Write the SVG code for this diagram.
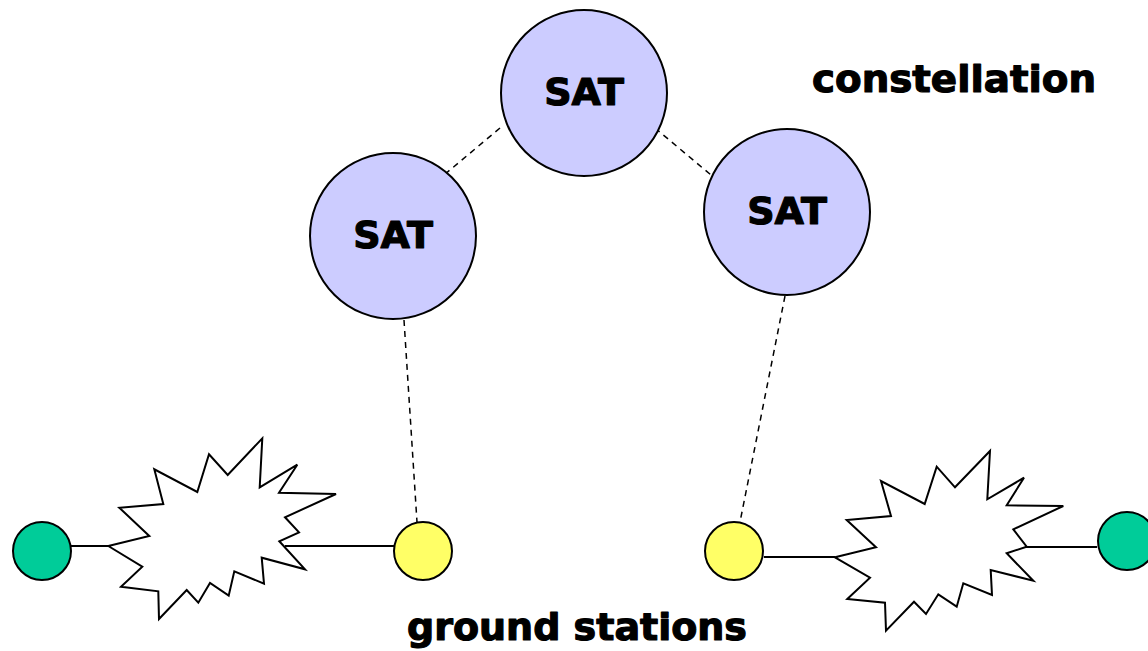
<svg xmlns="http://www.w3.org/2000/svg" width="1148" height="651" viewBox="0 0 1148 651">
  <style>
    .sat { fill: #ccccff; stroke: #000; stroke-width: 2; }
    .ground { fill: #ffff66; stroke: #000; stroke-width: 2; }
    .host { fill: #00cc99; stroke: #000; stroke-width: 2; }
    .cloud { fill: #fff; stroke: #000; stroke-width: 2; stroke-linejoin: miter; }
    .wire { stroke: #000; stroke-width: 1.8; fill: none; }
    .link { stroke: #000; stroke-width: 1.5; stroke-dasharray: 6 5; fill: none; }
    .lbl { font-family: "DejaVu Sans", "Liberation Sans", sans-serif; font-weight: bold; font-size: 38px; fill: #000; stroke: #000; stroke-width: 1.2; stroke-linejoin: round; }
  </style>
  <rect width="1148" height="651" fill="#fff"/>

  <g id="connectors">
    <line class="link" x1="500" y1="128" x2="444" y2="175"/>
    <line class="link" x1="655" y1="128" x2="711" y2="175"/>
    <line class="link" x1="404" y1="320" x2="417" y2="522"/>
    <line class="link" x1="785" y1="296" x2="740" y2="522"/>
    <line class="wire" x1="71" y1="546" x2="109" y2="546"/>
    <line class="wire" x1="285" y1="546" x2="394" y2="546"/>
    <line class="wire" x1="764" y1="557" x2="835" y2="557"/>
    <line class="wire" x1="1026" y1="547" x2="1097" y2="547"/>
  </g>

  <g id="sat-top">
    <circle class="sat" cx="584" cy="93" r="83"/>
    <text class="lbl" x="584" y="105" text-anchor="middle">SAT</text>
  </g>
  <g id="sat-left">
    <circle class="sat" cx="393" cy="236" r="83"/>
    <text class="lbl" x="393" y="248" text-anchor="middle">SAT</text>
  </g>
  <g id="sat-right">
    <circle class="sat" cx="787" cy="212" r="83"/>
    <text class="lbl" x="787" y="224" text-anchor="middle">SAT</text>
  </g>

  <g id="cloud-left">
    <polygon class="cloud" points="108.3,546 149.3,536 119.3,507.7 163.3,504 154.3,469.3 197.3,492 209,454.3 227.7,475 262.3,438.3 259.7,487.3 297.3,464.7 279,492.7 336,494 285,517.3 299,532.3 279.3,541.3 305,569.3 261.7,557.7 264,583.7 234.3,571.3 228.7,595.7 210,583 198.3,602.7 186.7,590 159,619 158.3,591.3 121,586.7 142.3,566.7"/>
  </g>
  <g id="cloud-right">
    <polygon class="cloud" points="835,557.3 876,547.3 846.7,520 891,516 881,481 924.7,504 936.7,466.7 955,487.3 990,451 987.3,499.3 1024,477.7 1006.7,505.3 1063.3,506 1013.3,529.3 1026.7,546.7 1006.7,553.3 1033.3,580.7 990.7,570 992,595 963.3,583.3 956.7,606.7 938.3,594.3 926,614 914,601.7 886,630.7 885,602.7 847.3,599 870,577.7"/>
  </g>

  <g id="host-left">
    <circle class="host" cx="42" cy="551" r="29"/>
  </g>
  <g id="station-left">
    <circle class="ground" cx="423" cy="551" r="29"/>
  </g>
  <g id="station-right">
    <circle class="ground" cx="734" cy="551" r="29"/>
  </g>
  <g id="host-right">
    <circle class="host" cx="1127" cy="541" r="29"/>
  </g>

  <g id="labels">
    <text class="lbl" x="812" y="92" textLength="284" lengthAdjust="spacingAndGlyphs">constellation</text>
    <text class="lbl" x="407" y="640" textLength="340" lengthAdjust="spacingAndGlyphs">ground stations</text>
  </g>
</svg>
